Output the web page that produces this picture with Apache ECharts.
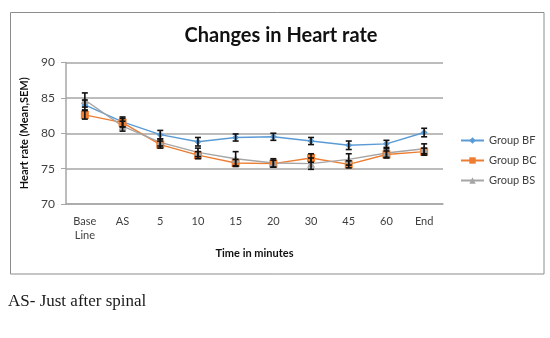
<!DOCTYPE html>
<html>
<head>
<meta charset="utf-8">
<script src="https://cdn.jsdelivr.net/npm/echarts@6/dist/echarts.min.js"></script>
<style>
  html, body { margin: 0; padding: 0; background: #ffffff; }
  #chart { width: 550px; height: 338px; }
</style>
</head>
<body>
<div id="chart"></div>
<script>
// categories on the x axis
var timeLabels = ['Base\nLine', 'AS', '5', '10', '15', '20', '30', '45', '60', 'End'];

// mean heart rate per group
var groupBF = [84.0, 81.6, 79.8, 78.8, 79.4, 79.5, 78.9, 78.3, 78.5, 80.1];
var groupBC = [82.6, 81.5, 78.4, 76.9, 75.8, 75.7, 76.5, 75.6, 77.0, 77.4];
var groupBS = [84.7, 81.0, 78.7, 77.3, 76.4, 75.8, 75.7, 76.3, 77.2, 77.8];

// SEM per group
var semBF = [0.7, 0.7, 0.6, 0.6, 0.5, 0.5, 0.5, 0.6, 0.5, 0.6];
var semBC = [0.6, 0.6, 0.5, 0.5, 0.5, 0.5, 0.6, 0.5, 0.5, 0.5];
var semBS = [1.0, 0.7, 0.5, 0.6, 1.0, 0.6, 0.8, 0.8, 0.6, 0.7];

var chart = echarts.init(document.getElementById('chart'));

// build [index, low, high] for the error bar series
function errData(vals, sem) {
  var out = [];
  for (var i = 0; i < vals.length; i++) {
    out.push([i, vals[i] - sem[i], vals[i] + sem[i]]);
  }
  return out;
}

function renderErr(params, api) {
  var x = api.value(0);
  var lo = api.coord([x, api.value(1)]);
  var hi = api.coord([x, api.value(2)]);
  var half = 3;
  var st = { stroke: '#111111', lineWidth: 1.6 };
  return {
    type: 'group',
    children: [
      { type: 'line', shape: { x1: lo[0], y1: lo[1], x2: hi[0], y2: hi[1] }, style: st },
      { type: 'line', shape: { x1: hi[0] - half, y1: hi[1], x2: hi[0] + half, y2: hi[1] }, style: st },
      { type: 'line', shape: { x1: lo[0] - half, y1: lo[1], x2: lo[0] + half, y2: lo[1] }, style: st }
    ]
  };
}

function lineSeries(name, data, color, symbol, size) {
  return {
    name: name,
    type: 'line',
    data: data,
    symbol: symbol,
    symbolSize: size,
    itemStyle: { color: color },
    lineStyle: { color: color, width: 1.4 },
    z: 3
  };
}

function errSeries(vals, sem) {
  return {
    type: 'custom',
    renderItem: renderErr,
    data: errData(vals, sem),
    encode: { x: 0, y: [1, 2] },
    silent: true,
    z: 4
  };
}

var font = 'Lato, "Open Sans", sans-serif';

var option = {
  animation: false,
  backgroundColor: '#ffffff',
  textStyle: { fontFamily: font },
  title: {
    text: 'Changes in Heart rate',
    left: 276,
    top: 21,
    textAlign: 'center',
    textStyle: { fontFamily: font, fontSize: 20, fontWeight: 'bold', color: '#111111' }
  },
  legend: {
    orient: 'vertical',
    left: 455,
    top: 130,
    itemGap: 9,
    itemWidth: 23,
    itemHeight: 8,
    data: ['Group BF', 'Group BC', 'Group BS'],
    textStyle: { fontFamily: font, fontSize: 11, color: '#404040' }
  },
  grid: { left: 66, right: 107, top: 62.5, bottom: 134 },
  xAxis: {
    type: 'category',
    data: timeLabels,
    boundaryGap: true,
    name: 'Time in minutes',
    nameLocation: 'middle',
    nameGap: 44,
    nameTextStyle: { fontFamily: font, fontSize: 11, fontWeight: 'bold', color: '#111111' },
    axisLine: { lineStyle: { color: '#a6a6a6', width: 1.5 } },
    axisTick: { show: false },
    axisLabel: { fontFamily: font, fontSize: 11, color: '#404040', margin: 10, lineHeight: 14 }
  },
  yAxis: {
    type: 'value',
    min: 70,
    max: 90,
    interval: 5,
    name: 'Heart rate (Mean,SEM)',
    nameLocation: 'middle',
    nameGap: 29,
    nameRotate: 90,
    nameTextStyle: { fontFamily: font, fontSize: 11, fontWeight: 'bold', color: '#111111' },
    axisLine: { show: true, lineStyle: { color: '#a6a6a6', width: 1.5 } },
    axisTick: { show: true, length: 5, lineStyle: { color: '#a6a6a6' } },
    axisLabel: { fontFamily: font, fontSize: 12, color: '#404040', margin: 11 },
    splitLine: { lineStyle: { color: '#a6a6a6', width: 1.5 } }
  },
  series: [
    lineSeries('Group BF', groupBF, '#5b9bd5', 'diamond', 7),
    lineSeries('Group BC', groupBC, '#ed7d31', 'rect', 8),
    lineSeries('Group BS', groupBS, '#a5a5a5', 'triangle', 8),
    errSeries(groupBF, semBF),
    errSeries(groupBC, semBC),
    errSeries(groupBS, semBS)
  ],
  graphic: [
    {
      type: 'rect',
      shape: { x: 10.5, y: 12.5, width: 533.5, height: 261.5 },
      style: { fill: null, stroke: '#8c8c8c', lineWidth: 1 },
      silent: true,
      z: -1
    },
    {
      type: 'text',
      left: 8,
      top: 293,
      style: {
        text: 'AS- Just after spinal',
        font: '17px "Liberation Serif", "DejaVu Serif", serif',
        fill: '#1a1a1a'
      }
    }
  ]
};

chart.setOption(option);
window.addEventListener('resize', function () {
  chart.resize();
});
</script>
</body>
</html>
